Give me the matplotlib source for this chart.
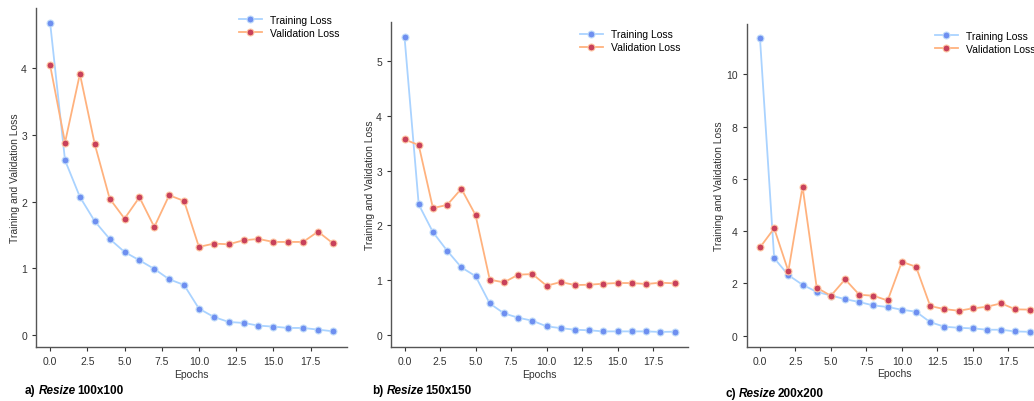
import matplotlib.pyplot as plt
import numpy as np

epochs = np.arange(20)

train_a = [4.68, 2.62, 2.07, 1.705, 1.44, 1.245, 1.12, 0.99, 0.835, 0.75,
           0.395, 0.27, 0.195, 0.18, 0.14, 0.125, 0.105, 0.105, 0.08, 0.055]
val_a = [4.045, 2.885, 3.915, 2.86, 2.045, 1.745, 2.065, 1.62, 2.095, 2.01,
         1.32, 1.37, 1.36, 1.42, 1.44, 1.395, 1.395, 1.395, 1.55, 1.375]

train_b = [5.445, 2.38, 1.875, 1.535, 1.23, 1.07, 0.57, 0.39, 0.31, 0.255,
           0.152, 0.12, 0.09, 0.08, 0.06, 0.06, 0.06, 0.06, 0.05, 0.055]
val_b = [3.57, 3.465, 2.315, 2.37, 2.667, 2.186, 1.005, 0.956, 1.096, 1.108,
         0.895, 0.962, 0.907, 0.913, 0.932, 0.944, 0.944, 0.926, 0.95, 0.938]

train_c = [11.39, 2.97, 2.32, 1.95, 1.68, 1.54, 1.40, 1.29, 1.16, 1.10,
           0.995, 0.92, 0.52, 0.345, 0.305, 0.28, 0.23, 0.23, 0.165, 0.15]
val_c = [3.38, 4.11, 2.47, 5.71, 1.84, 1.53, 2.16, 1.57, 1.53, 1.35,
         2.83, 2.64, 1.135, 1.02, 0.957, 1.046, 1.11, 1.24, 1.01, 1.0]

captions = ["a)", "b)", "c)"]
sizes = ["100x100", "150x150", "200x200"]

W, H = 1034, 402
# axes boxes in pixels: left, right, top, bottom
boxes = [(36, 347, 8.5, 347.7), (391, 688, 23, 347.7), (746.5, 1043, 24.5, 347.5)]
caption_pos = [(25, 391), (372, 391), (725, 394)]

plt.rcParams['font.family'] = ['Liberation Sans', 'DejaVu Sans']
fig = plt.figure(figsize=(W / 100, H / 100), dpi=100)
renderer = fig.canvas.get_renderer()

for i, (tr, va) in enumerate([(train_a, val_a), (train_b, val_b), (train_c, val_c)]):
    l, r, t, b = boxes[i]
    ax = fig.add_axes([l / W, 1 - b / H, (r - l) / W, (b - t) / H])
    ax.plot(epochs, tr, color='#aad3ff', lw=1.3, marker='o', ms=5,
            mfc='#6e8ff0', mec='#c3defa', mew=0.8, label='Training Loss')
    ax.plot(epochs, va, color='#ffb27e', lw=1.3, marker='o', ms=5,
            mfc='#c8415b', mec='#ffc9a6', mew=0.8, label='Validation Loss')
    ax.set_xticks([0, 2.5, 5, 7.5, 10, 12.5, 15, 17.5])
    ax.tick_params(labelsize=7.5, length=3, width=0.8, colors='#333333')
    ax.set_xlabel('Epochs', fontsize=7.5, labelpad=2, color='#333333')
    ax.set_ylabel('Training and Validation Loss', fontsize=7.5, labelpad=1, color='#333333')
    for s in ['top', 'right']:
        ax.spines[s].set_visible(False)
    for s in ['left', 'bottom']:
        ax.spines[s].set_color('#555555')
        ax.spines[s].set_linewidth(1.0)
    ax.legend(loc='upper right', frameon=False, fontsize=7.5, handlelength=2.2,
              borderaxespad=0.3, labelspacing=0.3)

    # caption: "a) Resize 100x100" with Resize in bold italic
    x, y = caption_pos[i]
    xx = x
    for txt, style, gap in [(captions[i], 'normal', 3.2), ('Resize', 'italic', 1.8),
                            (sizes[i], 'normal', 0)]:
        tt = fig.text(xx / W, 1 - y / H, txt, fontsize=8.5, fontweight='bold',
                      fontstyle=style, ha='left', va='center')
        xx += tt.get_window_extent(renderer).width + gap

fig.savefig('out.png', dpi=100)
